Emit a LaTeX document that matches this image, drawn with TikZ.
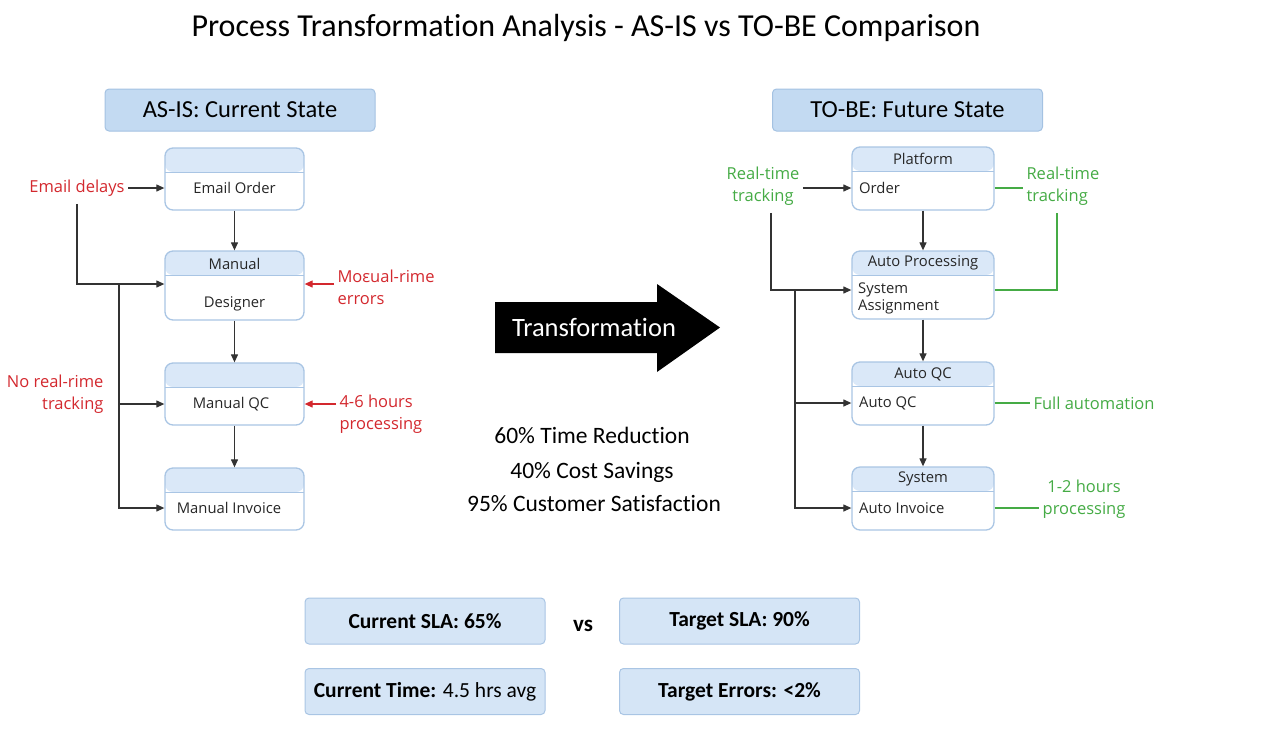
\documentclass[tikz,border=0pt]{standalone}
\usepackage{fontspec}
\setmainfont{Carlito}[Ligatures=NoCommon]
\newfontfamily\boxfont{Open Sans}
\usetikzlibrary{arrows.meta,positioning}

\definecolor{headblue}{HTML}{C3DAF2}
\definecolor{headedge}{HTML}{A4C2E2}
\definecolor{bandblue}{HTML}{DAE8F8}
\definecolor{edgeblue}{HTML}{A9C5E4}
\definecolor{kpiblue}{HTML}{D5E5F6}
\definecolor{noteRed}{HTML}{D3282E}
\definecolor{noteGreen}{HTML}{45AB45}
\definecolor{lineGray}{HTML}{333333}

\begin{document}
\begin{tikzpicture}[x=1pt,y=-1pt,
    headbox/.style={fill=headblue, draw=headedge, line width=1pt, rounded corners=4pt,
        minimum width=270pt, minimum height=42pt, font=\fontsize{24.5}{28}\selectfont},
    stagebox/.style={draw=edgeblue, line width=1.3pt, rounded corners=8pt, fill=white,
        minimum width=139pt, minimum height=62pt,
        path picture={\fill[bandblue] (path picture bounding box.north west) rectangle
            ([yshift=-24pt]path picture bounding box.north east);
            \draw[edgeblue, line width=1pt] ([yshift=-24pt]path picture bounding box.north west)
            -- ([yshift=-24pt]path picture bounding box.north east);}},
    boxtext/.style={text=black!85, font=\boxfont\fontsize{14.8}{17.5}\selectfont, inner sep=1pt},
    redtext/.style={text=noteRed, font=\boxfont\fontsize{16.5}{22}\selectfont},
    greentext/.style={text=noteGreen, font=\boxfont\fontsize{16.5}{22}\selectfont},
    kpibox/.style={fill=kpiblue, draw=edgeblue, line width=1pt, rounded corners=4pt,
        minimum width=240pt, minimum height=46pt, font=\bfseries\fontsize{21.5}{24}\selectfont},
    stat/.style={font=\fontsize{23.5}{26}\selectfont},
    arr/.style={draw=lineGray, line width=1.2pt, -{Triangle[length=8pt,width=7pt]}},
    redarr/.style={draw=noteRed, line width=1.2pt, -{Triangle[length=8pt,width=7pt]}},
    gline/.style={draw=noteGreen, line width=1.2pt}]

\useasboundingbox (0,0) rectangle (1263,729);

% title and headers
\node[font=\fontsize{32}{36}\selectfont] (title) at (586,28) {Process Transformation Analysis - AS-IS vs TO-BE Comparison};
\node[headbox] (asis) at (240,110) {AS-IS: Current State};
\node[headbox] (tobe) at (907.5,110) {TO-BE: Future State};

% AS-IS steps
\node[stagebox] (l1) at (234.5,179) {};
\node[stagebox, minimum height=69pt] (l2) at (234.5,285.5) {};
\node[stagebox] (l3) at (234.5,394) {};
\node[stagebox] (l4) at (234.5,499) {};

\node[boxtext] (l1t) at (234.5,188) {Email Order};
\node[boxtext] (l2h) at (234.5,264) {Manual};
\node[boxtext] (l2t) at (234.5,304) {Designer};
\node[boxtext] (l3t) at (231,404) {Manual QC};
\node[boxtext] (l4t) at (229,508) {Manual Invoice};

\draw[arr] (l1) -- (l2);
\draw[arr] (l2) -- (l3);
\draw[arr] (l3) -- (l4);

% AS-IS issues
\node[redtext] (ed) at (77,188) {Email delays};
\node[redtext, align=right, anchor=east] (nrt) at (107,394) {No real-rime\\tracking};
\node[redtext, align=left, anchor=west] (mre) at (334,287) {Moεual-rime\\errors};
\node[redtext, align=left, anchor=west] (hrs) at (336,414) {4-6 hours\\processing};

\coordinate (lbus) at (119,284);
\draw[arr] (ed) -- (ed -| l1.west);
\draw[arr] ([yshift=-4pt]ed.south) |- (lbus) -- (lbus -| l2.west);
\draw[arr] (lbus) |- (l3t -| l3.west);
\draw[arr] (lbus) |- (l4t -| l4.west);
\draw[redarr] (mre.west |- lbus) -- (lbus -| l2.east);
\draw[redarr] (hrs.west |- l3t) -- (l3t -| l3.east);

% transformation
\fill[black] (495,302) -- (657,302) -- (657,284) -- (720,327.5) -- (657,372) -- (657,353)
    -- (495,353) -- cycle;
\node[text=white, font=\fontsize{26.5}{30}\selectfont] (tf) at (594,327) {Transformation};
\node[stat] (s1) at (592,435) {60\% Time Reduction};
\node[stat] (s2) at (592,472) {40\% Cost Savings};
\node[stat] (s3) at (594,504) {95\% Customer Satisfaction};

% TO-BE steps
\node[stagebox, minimum width=142pt, minimum height=63pt] (r1) at (923,178.5) {};
\node[stagebox, minimum width=142pt, minimum height=68pt] (r2) at (923,285) {};
\node[stagebox, minimum width=142pt, minimum height=63pt] (r3) at (923,393.5) {};
\node[stagebox, minimum width=142pt, minimum height=63pt] (r4) at (923,498.5) {};

\node[boxtext] (r1h) at (923,159) {Platform};
\node[boxtext, anchor=west] (r1t) at (858,188) {Order};
\node[boxtext] (r2h) at (923,263) {Auto Processing};
\node[boxtext, anchor=west, align=left] (r2t) at (857,298.5) {System\\Assignment};
\node[boxtext] (r3h) at (923,374) {Auto QC};
\node[boxtext, anchor=west] (r3t) at (858,403) {Auto QC};
\node[boxtext] (r4h) at (923,479) {System};
\node[boxtext, anchor=west] (r4t) at (858,508) {Auto Invoice};

\draw[arr] (r1) -- (r2);
\draw[arr] (r2) -- (r3);
\draw[arr] (r3) -- (r4);

% TO-BE gains
\node[greentext, align=center] (gl) at (763,186) {Real-time\\tracking};
\node[greentext, align=left, anchor=west] (gr) at (1023,186) {Real-time\\tracking};
\node[greentext, anchor=west] (ga) at (1030,403) {Full automation};
\node[greentext, align=center] (gh) at (1084,499) {1-2 hours\\processing};

\coordinate (rbus) at (795,290);
\draw[arr] (gl.east |- r1t) -- (r1t -| r1.west);
\draw[arr] ([xshift=8pt,yshift=-4pt]gl.south) |- (rbus) -- (rbus -| r2.west);
\draw[arr] (rbus) |- (r3t -| r3.west);
\draw[arr] (rbus) |- (r4t -| r4.west);
\draw[gline] (r1t -| r1.east) -- (gr.west |- r1t);
\draw[gline] (rbus -| r2.east) -| ([xshift=-6pt,yshift=-4pt]gr.south);
\draw[gline] (r3t -| r3.east) -- (ga.west);
\draw[gline] (r4t -| r4.east) -- (gh.west |- r4t);

% KPIs
\node[kpibox] (k1) at (425,621) {Current SLA: 65\%};
\node[kpibox] (k2) at (739.5,621) {Target SLA: 90\%};
\node[kpibox] (k3) at (425,691.5) {Current Time: \mdseries 4.5 hrs avg};
\node[kpibox] (k4) at (739.5,691.5) {Target Errors: <2\%};
\node[font=\bfseries\fontsize{23}{26}\selectfont] (vs) at (583,626) {vs};
\end{tikzpicture}
\end{document}
